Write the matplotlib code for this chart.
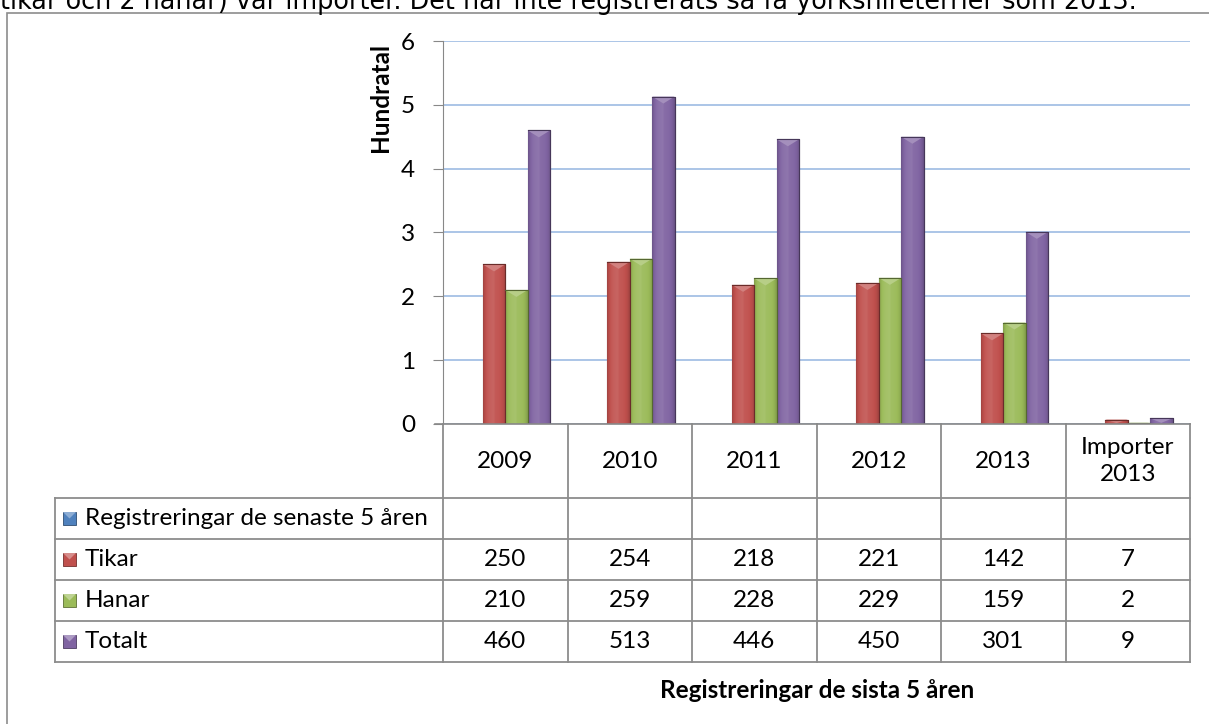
import matplotlib
matplotlib.use('Agg')
import matplotlib.pyplot as plt
import numpy as np
from matplotlib.transforms import blended_transform_factory
from matplotlib.colors import to_rgb
from matplotlib.patches import Rectangle, Polygon

# ---------------- data ----------------
categories = ['2009', '2010', '2011', '2012', '2013', 'Importer\n2013']
series_names = ['Registreringar de senaste 5 åren', 'Tikar', 'Hanar', 'Totalt']
registreringar = [None, None, None, None, None, None]
tikar = [250, 254, 218, 221, 142, 7]
hanar = [210, 259, 228, 229, 159, 2]
totalt = [460, 513, 446, 450, 301, 9]
series_colors = ['#4F81BD', '#C0504D', '#9BBB59', '#8064A2']
y_ticks = [0, 1, 2, 3, 4, 5, 6]
ylabel = 'Hundratal'
xlabel = 'Registreringar de sista 5 åren'
top_text = 'tikar och 2 hanar) var importer. Det har inte registrerats så få yorkshireterrier som 2013.'

series_values = [registreringar, tikar, hanar, totalt]

W, H = 1209, 724
fig = plt.figure(figsize=(W / 100, H / 100), dpi=100)
fig.patch.set_facecolor('white')


def fx(px):
    return px / W


def fy(py):
    return 1 - py / H


FONT = 'Lato'
FS = 17.5

# outer frame and top text
fig.add_artist(Rectangle((fx(7), fy(H + 20)), 1.2, fy(13) - fy(H + 20), transform=fig.transFigure,
                         fill=False, edgecolor='#8c8c8c', linewidth=1.2))
fig.text(fx(0), fy(9), top_text, fontsize=18.4, family='DejaVu Sans', va='baseline', ha='left',
         color='black')

ax = fig.add_axes([fx(443), fy(424), fx(1190) - fx(443), fy(41) - fy(424)])
ax.set_xlim(-0.5, len(categories) - 0.5)
ax.set_ylim(0, 6)
ax.set_yticks(y_ticks)
ax.set_yticklabels([str(t) for t in y_ticks], fontsize=FS, family=FONT)
ax.tick_params(axis='y', length=7, color='#888888', pad=13)
ax.set_xticks([])
for s in ['top', 'right']:
    ax.spines[s].set_visible(False)
ax.spines['left'].set_color('#888888')
ax.spines['bottom'].set_visible(False)
ax.yaxis.grid(True, color='#9DBBE3', linewidth=1.2)
ax.set_axisbelow(True)

x = np.arange(len(categories))
n = len(series_names)
width = 0.18


def shade(c, f):
    r = np.array(to_rgb(c))
    if f >= 0:
        return tuple(r + (1 - r) * f)
    return tuple(r * (1 + f))


px_per_unit = (424 - 41) / 6.0
cap_depth = 7 / px_per_unit

for k, (vals, col) in enumerate(zip(series_values, series_colors)):
    for i, v in enumerate(vals):
        if v is None:
            continue
        h = v / 100.0
        xc = x[i] + (k - (n - 1) / 2) * width
        bars = ax.bar(xc, h, width=width, color=col, edgecolor=shade(col, -0.45),
                      linewidth=0.8, zorder=3)
        patch = bars[0]
        grad = np.linspace(-1, 1, 64)
        prof = np.where(grad < 0, 0.12 * (1 - np.abs(grad)) ** 0.5, 0.06 * (1 - grad))
        img = np.array([[shade(col, p - 0.18 * np.abs(g) ** 4) for p, g in zip(prof, grad)]])
        im = ax.imshow(img, extent=(xc - width / 2, xc + width / 2, 0, h), aspect='auto',
                       zorder=3.5, interpolation='bicubic')
        im.set_clip_path(patch)
        d = min(cap_depth, h * 0.8)
        cap = Polygon([(xc - width / 2, h), (xc + width / 2, h), (xc, h - d)],
                      closed=True, facecolor=shade(col, 0.28), edgecolor='none', zorder=4)
        ax.add_patch(cap)
        ax.plot([xc - width / 2, xc + width / 2, xc + width / 2], [h, h, 0],
                color=shade(col, -0.45), linewidth=0.8, zorder=4.5)
ax.set_xlim(-0.5, len(categories) - 0.5)
ax.set_ylim(0, 6)

ax.plot([-0.5 - 8 / 124.5, len(categories) - 0.5], [0, 0], color='#888888', linewidth=1.2,
        clip_on=False, zorder=5)

fig.text(fx(381), fy(98), ylabel, rotation=90, fontsize=FS, family=FONT, fontweight='bold',
         ha='center', va='center')

# ---------------- data table ----------------
tr = blended_transform_factory(ax.transData, fig.transFigure)
tf = fig.transFigure
line_kw = dict(color='#8c8c8c', linewidth=1.3, clip_on=False)
row_edges = [424, 498, 539, 580, 621, 662]
left_px = 55
xl = -0.5
xr = len(categories) - 0.5
col_edges = [xl + i for i in range(len(categories) + 1)]

for ce in col_edges:
    ax.plot([ce, ce], [fy(row_edges[0]), fy(row_edges[-1])], transform=tr, **line_kw)
for j, r in enumerate(row_edges[1:]):
    ax.plot([xl, xr], [fy(r), fy(r)], transform=tr, **line_kw)
    fig.add_artist(plt.Line2D([fx(left_px), fx(443)], [fy(r), fy(r)], transform=tf, **line_kw))
fig.add_artist(plt.Line2D([fx(left_px), fx(left_px)], [fy(row_edges[1]), fy(row_edges[-1])],
                          transform=tf, **line_kw))

for i, c in enumerate(categories):
    ax.text(x[i], fy((row_edges[0] + row_edges[1]) / 2), c, transform=tr, ha='center', va='center',
            fontsize=FS, family=FONT, linespacing=1.35)

for k, (name, vals, col) in enumerate(zip(series_names, series_values, series_colors)):
    top, bot = row_edges[k + 1], row_edges[k + 2]
    ymid = (top + bot) / 2
    sw = 13
    sx = 63
    fig.add_artist(Rectangle((fx(sx), fy(ymid + sw / 2)), fx(sw), fy(ymid - sw / 2) - fy(ymid + sw / 2),
                             transform=tf, facecolor=col, edgecolor=shade(col, -0.4), linewidth=0.6))
    fig.add_artist(Polygon([(fx(sx), fy(ymid - sw / 2)), (fx(sx + sw), fy(ymid - sw / 2)),
                            (fx(sx + sw / 2), fy(ymid))], closed=True, transform=tf,
                           facecolor=shade(col, 0.35), edgecolor='none'))
    fig.text(fx(85), fy(ymid), name, fontsize=FS, family=FONT, ha='left', va='center')
    for i, v in enumerate(vals):
        if v is None:
            continue
        ax.text(x[i], fy(ymid), str(v), transform=tr, ha='center', va='center', fontsize=FS,
                family=FONT)

fig.text(fx(817), fy(690), xlabel, fontsize=FS, family=FONT, fontweight='bold', ha='center',
         va='center')

fig.savefig('out.png', dpi=100, facecolor='white')
